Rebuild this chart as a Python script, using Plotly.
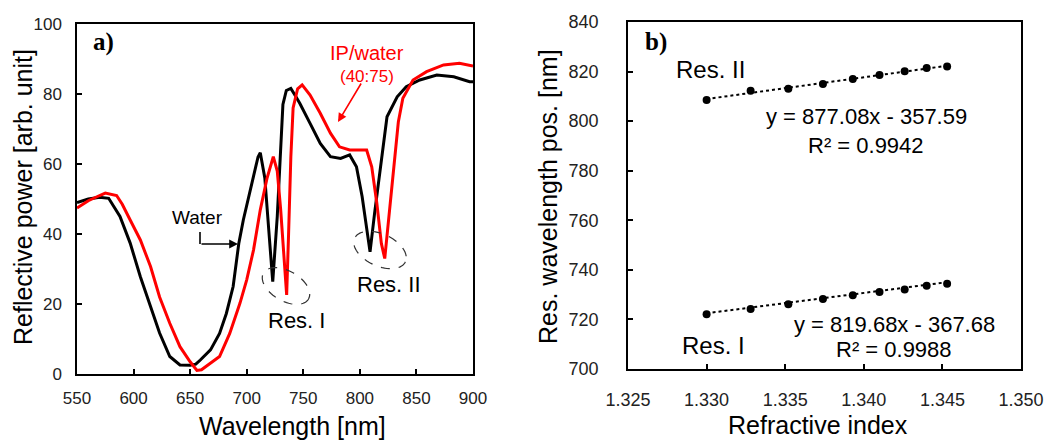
import numpy as np
import plotly.graph_objects as go

# ---------------- data: panel a (reflection spectra) ----------------
wl_water = [550, 560, 570, 578, 588, 597, 606, 615, 623, 632, 641, 650, 655, 659, 668, 676,
            682, 688, 693, 697, 701, 706, 710, 712, 716, 720, 723, 727, 730, 732, 735, 739,
            743, 747, 756, 765, 774, 783, 791, 797, 802, 806, 809, 813, 818, 824, 833, 841,
            853, 868, 883, 897, 900]
p_water = [49.0, 50.0, 50.5, 50.2, 45.0, 37.4, 27.8, 19.2, 11.7, 5.0, 2.6, 2.5, 2.8, 4.0, 6.9, 11.6,
           17.3, 25.0, 37.3, 44.0, 49.7, 57.0, 62.0, 63.2, 56.0, 39.0, 26.4, 45.0, 65.0, 77.0, 81.0, 81.6,
           79.5, 77.3, 71.6, 65.9, 62.1, 61.6, 62.6, 59.2, 50.7, 41.1, 34.9, 45.9, 59.0, 73.5, 79.2, 82.1,
           84.0, 85.4, 84.9, 83.5, 83.5]

wl_ip = [550, 560, 570, 575, 585, 590, 597, 606, 615, 623, 632, 641, 650, 656, 660, 668, 676,
         685, 694, 700, 706, 712, 718, 723.5, 727, 730, 733, 735.3, 737, 739, 741, 745, 749,
         756, 765, 774, 782, 791, 806, 810.5, 815, 819, 822, 826.6, 831, 834, 838, 847, 859,
         874, 888, 897, 900]
p_ip = [47.4, 49.5, 51.0, 51.7, 51.0, 48.5, 44.0, 38.3, 30.7, 22.0, 14.5, 7.8, 3.5, 1.0, 1.2, 3.0, 5.0,
        11.6, 20.2, 26.9, 35.4, 46.9, 56.0, 62.1, 58.0, 47.0, 32.0, 22.6, 40.0, 62.0, 76.0, 81.5, 82.6,
        79.7, 74.5, 68.8, 64.9, 64.0, 64.0, 59.2, 48.8, 37.3, 33.0, 48.0, 63.0, 72.0, 78.8, 84.0, 86.4,
        88.3, 88.8, 88.3, 88.0]

# ---------------- data: panel b (resonance positions) ----------------
ri = [1.3300, 1.3328, 1.3352, 1.3374, 1.3393, 1.3410, 1.3426, 1.3440, 1.3453]
res2 = [808.5, 812.3, 813.1, 815.0, 817.0, 818.6, 820.1, 821.4, 822.0]
res1 = [722.1, 724.2, 726.1, 728.2, 729.8, 731.1, 732.1, 733.6, 734.4]
fit2 = (877.08, -357.59)
fit1 = (819.68, -367.68)

x_ticks_a = [550, 600, 650, 700, 750, 800, 850, 900]
y_ticks_a = [0, 20, 40, 60, 80, 100]
x_ticks_b = [1.325, 1.330, 1.335, 1.340, 1.345, 1.350]
y_ticks_b = [700, 720, 740, 760, 780, 800, 820, 840]

W, H = 1049, 440
FONT = "Liberation Sans, Arial, sans-serif"
SERIF = "Liberation Serif, Times New Roman, serif"

# plot-area pixel boxes
AX = dict(l=77, r=473, t=24, b=374)
BX = dict(l=628, r=1021, t=22, b=369)

fig = go.Figure()
fig.add_trace(go.Scatter(x=wl_water, y=p_water, mode="lines", line=dict(color="black", width=3),
                         xaxis="x", yaxis="y", showlegend=False))
fig.add_trace(go.Scatter(x=wl_ip, y=p_ip, mode="lines", line=dict(color="#ff0000", width=3),
                         xaxis="x", yaxis="y", showlegend=False))

xf = np.array([ri[0], ri[-1]])
for (m, c) in (fit2, fit1):
    fig.add_trace(go.Scatter(x=xf, y=m * xf + c, mode="lines",
                             line=dict(color="black", width=2, dash="dot"),
                             xaxis="x2", yaxis="y2", showlegend=False))
for ys in (res2, res1):
    fig.add_trace(go.Scatter(x=ri, y=ys, mode="markers",
                             marker=dict(color="black", size=8),
                             xaxis="x2", yaxis="y2", showlegend=False))

def dom_x(b):
    return [b["l"] / W, b["r"] / W]

def dom_y(b):
    return [1 - b["b"] / H, 1 - b["t"] / H]

axis_common = dict(showgrid=False, zeroline=False, showline=True, linecolor="black", linewidth=1.5,
                   mirror=True, ticks="inside", ticklen=5, tickwidth=1.5, tickcolor="black",
                   automargin=False)

fig.update_layout(
    width=W, height=H, margin=dict(l=0, r=0, t=0, b=0, autoexpand=False),
    paper_bgcolor="white", plot_bgcolor="white",
    xaxis=dict(domain=dom_x(AX), range=[550, 900], tickvals=x_ticks_a, anchor="y",
               tickfont=dict(family=FONT, size=17, color="#222"), ticklabelstandoff=8, **axis_common),
    yaxis=dict(domain=dom_y(AX), range=[0, 100], tickvals=y_ticks_a, anchor="x",
               tickfont=dict(family=FONT, size=17, color="#222"), ticklabelstandoff=10, **axis_common),
    xaxis2=dict(domain=dom_x(BX), range=[1.325, 1.350], tickvals=x_ticks_b, anchor="y2",
                ticktext=[f"{v:.3f}" for v in x_ticks_b],
                tickfont=dict(family=FONT, size=18, color="#222"), ticklabelstandoff=14, **axis_common),
    yaxis2=dict(domain=dom_y(BX), range=[700, 840], tickvals=y_ticks_b, anchor="x2",
                tickfont=dict(family=FONT, size=18, color="#222"), ticklabelstandoff=24, **axis_common),
)

def P(px, py):
    return px / W, 1 - py / H

anns = []
def txt(s, px, py, size, color="black", family=FONT, angle=0):
    x, y = P(px, py)
    anns.append(dict(text=s, x=x, y=y, xref="paper", yref="paper", showarrow=False,
                     xanchor="center", yanchor="middle", textangle=angle,
                     font=dict(family=family, size=size, color=color)))

# panel labels
txt("<b>a)</b>", 103, 42, 25, family=SERIF)
txt("<b>b)</b>", 656, 42, 25, family=SERIF)
# axis titles
txt("Wavelength [nm]", 292, 426, 25)
txt("Reflective power [arb. unit]", 23, 197, 25, angle=-90)
txt("Refractive index", 818, 425, 25)
txt("Res. wavelength pos. [nm]", 548, 197, 25, angle=-90)
# panel a labels
txt("IP/water", 367, 53, 20, color="#ff0000")
txt("(40:75)", 367, 76, 17, color="#ff0000")
txt("Water", 197, 217, 19)
txt("Res. I", 296, 320, 22)
txt("Res. II", 389, 284, 22)
# panel b labels
txt("Res. II", 710, 70, 24)
txt("y = 877.08x - 357.59", 866, 117, 22)
txt("R² = 0.9942", 866, 145, 22)
txt("y = 819.68x - 367.68", 894, 324, 22)
txt("R² = 0.9988", 894, 349, 22)
txt("Res. I", 713, 345, 24)

# arrows (panel a)
kx = (AX["r"] - AX["l"]) / 350.0
ky = (AX["b"] - AX["t"]) / 100.0
def dx(px):
    return 550 + (px - AX["l"]) / kx
def dy(py):
    return (AX["b"] - py) / ky

anns.append(dict(x=dx(338), y=dy(122), xref="x", yref="y", ax=24, ay=-40, text="",
                 showarrow=True, arrowhead=2, arrowsize=1.1, arrowwidth=1.6, arrowcolor="#ff0000"))
anns.append(dict(x=dx(238), y=dy(244), xref="x", yref="y", ax=-38, ay=0, text="",
                 showarrow=True, arrowhead=2, arrowsize=1.1, arrowwidth=1.6, arrowcolor="black"))

shapes = [dict(type="line", xref="x", yref="y", x0=dx(200), x1=dx(200), y0=dy(232), y1=dy(244),
               line=dict(color="black", width=1.6))]

def ellipse(cpx, cpy, a, b, ang_deg):
    t = np.linspace(0, 2 * np.pi, 73)
    ph = np.radians(ang_deg)
    px = cpx + a * np.cos(t) * np.cos(ph) - b * np.sin(t) * np.sin(ph)
    py = cpy + a * np.cos(t) * np.sin(ph) + b * np.sin(t) * np.cos(ph)
    pts = [f"{dx(u):.3f},{dy(v):.3f}" for u, v in zip(px, py)]
    return "M " + " L ".join(pts) + " Z"

shapes.append(dict(type="path", xref="x", yref="y", path=ellipse(286, 286, 26, 15, 30),
                   line=dict(color="#333", width=1.2, dash="dash")))
shapes.append(dict(type="path", xref="x", yref="y", path=ellipse(380, 250, 28, 16, 25),
                   line=dict(color="#333", width=1.2, dash="dash")))

fig.update_layout(annotations=anns, shapes=shapes)
fig.write_html("out.html")
